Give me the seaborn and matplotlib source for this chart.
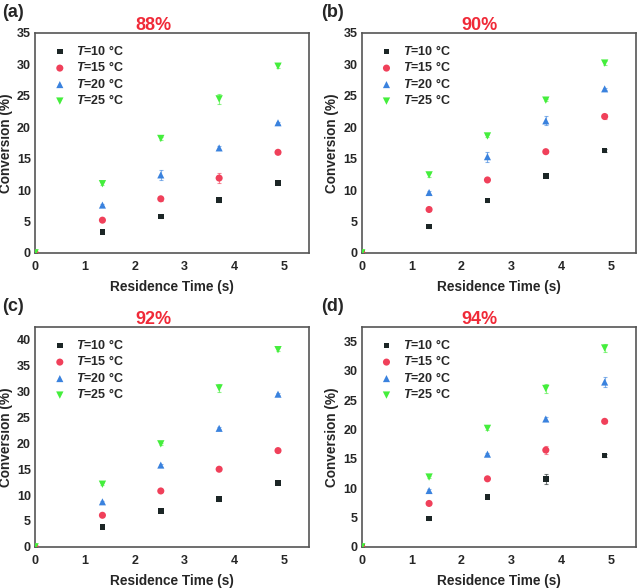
import numpy as np
import pandas as pd
import matplotlib.pyplot as plt
import seaborn as sns

# residence time (s)
time_s = [0, 1.35, 2.52, 3.69, 4.87]
temps = ["10", "15", "20", "25"]
panels = ["(a)", "(b)", "(c)", "(d)"]
titles = ["88%", "90%", "92%", "94%"]

# conversion (%) per panel, per temperature
conv_a = {"10": [0, 3.3, 5.8, 8.4, 11.1], "15": [0, 5.2, 8.6, 11.9, 16.0],
          "20": [0, 7.6, 12.4, 16.7, 20.7], "25": [0, 11.0, 18.2, 24.5, 29.7]}
conv_b = {"10": [0, 4.2, 8.3, 12.2, 16.3], "15": [0, 6.9, 11.6, 16.1, 21.7],
          "20": [0, 9.6, 15.3, 21.0, 26.1], "25": [0, 12.4, 18.6, 24.3, 30.2]}
conv_c = {"10": [0, 3.8, 6.9, 9.2, 12.3], "15": [0, 6.1, 10.8, 15.0, 18.6],
          "20": [0, 8.7, 15.8, 22.9, 29.5], "25": [0, 12.1, 19.9, 30.7, 38.1]}
conv_d = {"10": [0, 4.8, 8.5, 11.6, 15.6], "15": [0, 7.4, 11.6, 16.5, 21.4],
          "20": [0, 9.6, 15.8, 21.8, 28.1], "25": [0, 11.9, 20.2, 27.0, 33.9]}

# error bars (%)
err_a = {"10": [0, 0.2, 0.2, 0.3, 0.2], "15": [0, 0.2, 0.3, 0.8, 0.2],
         "20": [0, 0.2, 0.8, 0.3, 0.2], "25": [0, 0.2, 0.3, 0.8, 0.3]}
err_b = {"10": [0, 0.2, 0.2, 0.2, 0.3], "15": [0, 0.2, 0.2, 0.2, 0.4],
         "20": [0, 0.2, 0.8, 0.7, 0.2], "25": [0, 0.3, 0.2, 0.2, 0.3]}
err_c = {"10": [0, 0.2, 0.2, 0.3, 0.2], "15": [0, 0.2, 0.2, 0.2, 0.2],
         "20": [0, 0.2, 0.3, 0.2, 0.2], "25": [0, 0.2, 0.2, 0.7, 0.3]}
err_d = {"10": [0, 0.2, 0.2, 0.8, 0.2], "15": [0, 0.2, 0.2, 0.7, 0.2],
         "20": [0, 0.2, 0.2, 0.4, 0.8], "25": [0, 0.2, 0.2, 0.7, 0.7]}

ylims = [35, 35, 42.5, 37.5]
yticks = [np.arange(0, 36, 5), np.arange(0, 36, 5), np.arange(0, 41, 5), np.arange(0, 36, 5)]

colors = {"10": "#1c2626", "15": "#f0405a", "20": "#3a82de", "25": "#44ee3c"}
markers = {"10": "s", "15": "o", "20": "^", "25": "v"}
sizes = {"10": 16, "15": 26, "20": 26, "25": 28}

sns.set_style("white")
plt.rcParams["font.family"] = ["Liberation Sans", "DejaVu Sans"]
plt.rcParams["mathtext.fontset"] = "custom"
plt.rcParams["mathtext.it"] = "Liberation Sans:italic:bold"
plt.rcParams["mathtext.rm"] = "Liberation Sans:bold"

fig = plt.figure(figsize=(6.38, 5.88), dpi=100)
boxes = [(0.055, 0.570), (0.567, 0.570), (0.055, 0.070), (0.567, 0.070)]
w, h = 0.430, 0.374
label_pos = [(0.003, 0.978), (0.503, 0.978), (0.003, 0.478), (0.503, 0.478)]

for i, (conv, err) in enumerate(zip([conv_a, conv_b, conv_c, conv_d],
                                    [err_a, err_b, err_c, err_d])):
    ax = fig.add_axes([boxes[i][0], boxes[i][1], w, h])
    rows = []
    for t in temps:
        for x, y in zip(time_s, conv[t]):
            rows.append({"time": x, "conv": y, "T": t})
    df = pd.DataFrame(rows)
    for t in temps:
        ax.errorbar(time_s, conv[t], yerr=err[t], fmt="none", ecolor=colors[t],
                    elinewidth=0.8, capsize=1.5, capthick=0.8, alpha=0.6, zorder=2)
        sub = df[df["T"] == t]
        sns.scatterplot(data=sub, x="time", y="conv", marker=markers[t], color=colors[t],
                        s=sizes[t], edgecolor="none", ax=ax, zorder=3,
                        label=f"$T$=" + t + " °C")
    ax.set_xlim(0, 5.5)
    ax.set_ylim(0, ylims[i])
    ax.set_xticks(range(0, 6))
    ax.set_yticks(yticks[i])
    ax.tick_params(direction="in", length=3, width=0.8, labelsize=9, color="#444444")
    ax.tick_params(axis="x", pad=6)
    ax.tick_params(axis="y", pad=3)
    for lab in ax.get_xticklabels() + ax.get_yticklabels():
        lab.set_fontweight("bold")
    for sp in ax.spines.values():
        sp.set_color("#555555")
        sp.set_linewidth(1.2)
    ax.set_xlabel("Residence Time (s)", fontsize=9.8, fontweight="bold", labelpad=5)
    ax.set_ylabel("Conversion (%)", fontsize=9.8, fontweight="bold", labelpad=3)
    ax.set_title(titles[i], color="#f02a38", fontsize=13, fontweight="bold", pad=2, x=0.43)
    leg = ax.legend(loc="upper left", frameon=False, fontsize=9, handlelength=0.8,
                    handletextpad=0.9, labelspacing=0.2, borderaxespad=0.3,
                    bbox_to_anchor=(0.04, 0.99))
    for txt in leg.get_texts():
        txt.set_fontweight("bold")
    fig.text(label_pos[i][0], label_pos[i][1], panels[i], fontsize=13, fontweight="bold",
             va="center", ha="left")

plt.savefig("out.png", dpi=100)
plt.close()
